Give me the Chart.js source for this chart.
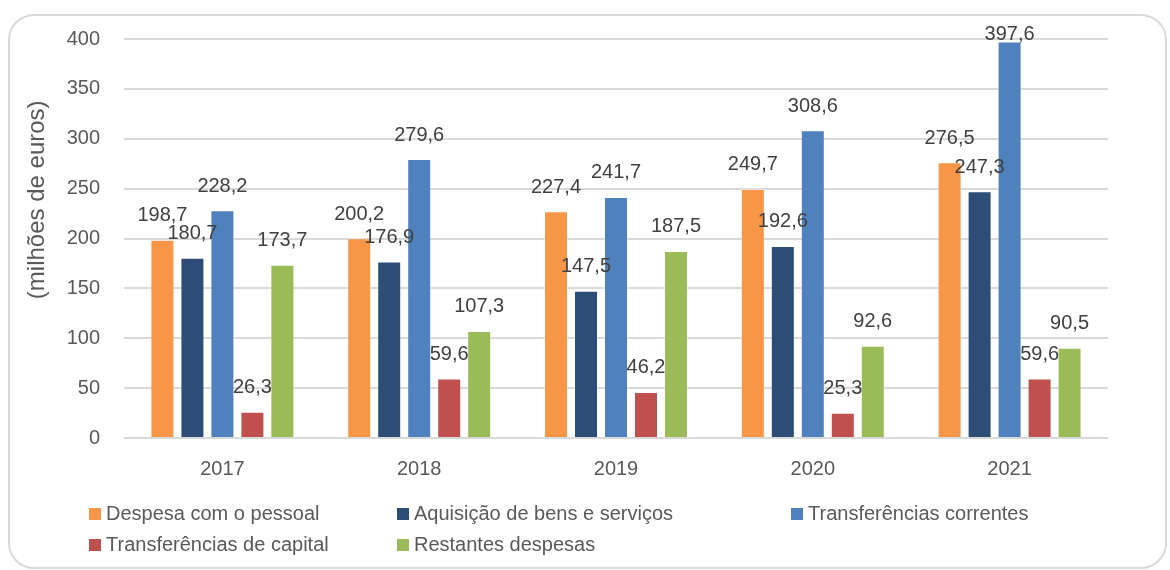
<!DOCTYPE html>
<html>
<head>
<meta charset="utf-8">
<script src="https://cdn.jsdelivr.net/npm/chart.js@4.4.1/dist/chart.umd.min.js"></script>
<style>
    html, body { margin: 0; padding: 0; background: #fff; }
    body { width: 1170px; height: 570px; position: relative; overflow: hidden; font-family: "Liberation Sans", Arial, sans-serif; }
    .frame { position: absolute; left: 8px; top: 14px; width: 1155px; height: 551px; border: 2px solid #d9d9d9; border-radius: 26px; }
    #chartWrap { position: absolute; left: 0; top: 0; width: 1170px; height: 570px; }
    #legend { position: absolute; left: 89px; top: 501px; display: grid; grid-template-columns: 308px 394px auto; row-gap: 6px; }
    .item { display: flex; align-items: center; font-size: 20px; color: #595959; height: 25px; white-space: nowrap; }
    .box { width: 12px; height: 12px; margin-right: 5px; }
</style>
</head>
<body>
<div class="frame"></div>
<div id="chartWrap"><canvas id="despesaChart" width="1170" height="570"></canvas></div>
<div id="legend"></div>
<script>
const years = ['2017', '2018', '2019', '2020', '2021'];
const seriesNames = ['Despesa com o pessoal', 'Aquisição de bens e serviços', 'Transferências correntes', 'Transferências de capital', 'Restantes despesas'];
const despesaPessoal = [198.7, 200.2, 227.4, 249.7, 276.5];
const aquisicaoBens = [180.7, 176.9, 147.5, 192.6, 247.3];
const transfCorrentes = [228.2, 279.6, 241.7, 308.6, 397.6];
const transfCapital = [26.3, 59.6, 46.2, 25.3, 59.6];
const restantes = [173.7, 107.3, 187.5, 92.6, 90.5];
const yTicks = [0, 50, 100, 150, 200, 250, 300, 350, 400];
const yTitle = '(milhões de euros)';

const colors = ['#F79646', '#2C4D75', '#4F81BD', '#C0504D', '#9BBB59'];
const allValues = [despesaPessoal, aquisicaoBens, transfCorrentes, transfCapital, restantes];
const FONT = '"Liberation Sans", Arial, sans-serif';

const fmt = (v) => v.toFixed(1).replace('.', ',');

// labels above each bar, like the spreadsheet version
const barLabels = {
    id: 'barLabels',
    afterDatasetsDraw(chart) {
        const ctx = chart.ctx;
        ctx.save();
        ctx.font = '20px ' + FONT;
        ctx.fillStyle = '#404040';
        ctx.textAlign = 'center';
        ctx.textBaseline = 'middle';
        chart.data.datasets.forEach((ds, i) => {
            const meta = chart.getDatasetMeta(i);
            meta.data.forEach((bar, j) => {
                let y = bar.y - 24;
                if (y < chart.chartArea.top - 5) y = chart.chartArea.top - 5;
                ctx.fillText(fmt(ds.data[j]), bar.x, y);
            });
        });
        ctx.restore();
    }
};

// axis title sits a bit above the middle in the original
const axisTitle = {
    id: 'axisTitle',
    afterDraw(chart) {
        const ctx = chart.ctx;
        const area = chart.chartArea;
        ctx.save();
        ctx.translate(37, area.top + area.height * 0.403);
        ctx.rotate(-Math.PI / 2);
        ctx.font = '24px ' + FONT;
        ctx.fillStyle = '#595959';
        ctx.textAlign = 'center';
        ctx.textBaseline = 'middle';
        ctx.fillText(yTitle, 0, 0);
        ctx.restore();
    }
};

const ctx = document.getElementById('despesaChart').getContext('2d');
const chart = new Chart(ctx, {
    type: 'bar',
    data: {
        labels: years,
        datasets: seriesNames.map((name, i) => ({
            label: name,
            data: allValues[i],
            backgroundColor: colors[i],
            borderColor: 'rgba(255,255,255,0.35)',
            borderWidth: 1,
            categoryPercentage: 0.762,
            barPercentage: 0.8
        }))
    },
    options: {
        responsive: false,
        animation: false,
        layout: { padding: { left: 26, right: 62, top: 39, bottom: 82 } },
        plugins: {
            legend: { display: false },
            tooltip: { enabled: false }
        },
        scales: {
            x: {
                grid: { display: false },
                border: { display: false },
                ticks: { color: '#595959', font: { size: 20, family: FONT }, padding: 11 },
                afterFit: (scale) => { scale.height = 50; }
            },
            y: {
                min: 0,
                max: 400,
                afterBuildTicks: (scale) => { scale.ticks = yTicks.map(v => ({ value: v })); },
                grid: { color: '#d9d9d9', lineWidth: 2, drawTicks: false },
                border: { display: false },
                ticks: { color: '#595959', font: { size: 20, family: FONT }, padding: 24 },
                afterFit: (scale) => { scale.width = 98; }
            }
        }
    },
    plugins: [barLabels, axisTitle]
});

// legend laid out in columns below the chart
const legendEl = document.getElementById('legend');
chart.data.datasets.forEach((ds) => {
    const item = document.createElement('div');
    item.className = 'item';
    item.innerHTML = '<span class="box" style="background:' + ds.backgroundColor + '"></span>' + ds.label;
    legendEl.appendChild(item);
});
</script>
</body>
</html>
